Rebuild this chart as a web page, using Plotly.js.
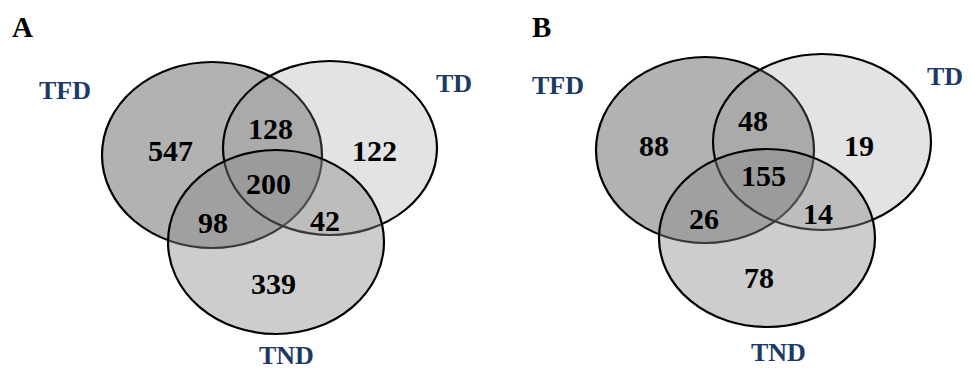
<!DOCTYPE html>
<html>
<head>
<meta charset="utf-8">
<script src="https://cdn.plot.ly/plotly-3.0.1.min.js"></script>
<style>html,body{margin:0;padding:0;background:#fff;}#chart{width:971px;height:371px;}</style>
</head>
<body>
<div id="chart"></div>
<script>
// ---- data ----
var panels = ["A", "B"];
var setNames = ["TFD", "TD", "TND"];
var regionNames = ["TFD only", "TFD∩TD", "TD only", "TFD∩TD∩TND", "TFD∩TND", "TD∩TND", "TND only"];
var countsA = [547, 128, 122, 200, 98, 42, 339];
var countsB = [88, 48, 19, 155, 26, 14, 78];

// ---- layout geometry (pixel space of the figure) ----
var geo = [
  {
    letter: [22, 27],
    ellipses: [ // TFD, TD, TND : cx, cy, rx, ry
      [212, 155, 110, 93],
      [330, 148, 107, 87],
      [276, 242, 108, 92]
    ],
    labels: [[65, 90], [454, 83], [286, 355]],
    regions: [[170, 150], [270, 128], [374, 150], [268, 183], [213, 222], [325, 220], [273, 283]]
  },
  {
    letter: [541, 27],
    ellipses: [
      [705, 150, 109, 93],
      [822, 142, 109, 88],
      [767, 238, 108, 89]
    ],
    labels: [[558, 85], [945, 76], [778, 352]],
    regions: [[654, 145], [753, 120], [859, 145], [763, 175], [704, 218], [818, 213], [759, 277]]
  }
];
var fills = ["rgba(178,178,178,1)", "rgba(146,146,146,0.26)", "rgba(135,135,135,0.42)"];
var counts = [countsA, countsB];

var shapes = [];
var annotations = [];
var serif = "Liberation Serif, Times New Roman, serif";

geo.forEach(function (g, p) {
  g.ellipses.forEach(function (e, i) {
    shapes.push({
      type: "circle", xref: "x", yref: "y",
      x0: e[0] - e[2], x1: e[0] + e[2], y0: e[1] - e[3], y1: e[1] + e[3],
      fillcolor: fills[i], line: {color: "#000", width: 2.2}, layer: "above"
    });
  });
  annotations.push({
    x: g.letter[0], y: g.letter[1], xref: "x", yref: "y", showarrow: false,
    text: "<b>" + panels[p] + "</b>", font: {family: serif, size: 29, color: "#000"}
  });
  setNames.forEach(function (n, i) {
    annotations.push({
      x: g.labels[i][0], y: g.labels[i][1], xref: "x", yref: "y", showarrow: false,
      text: "<b>" + n + "</b>", font: {family: serif, size: 26, color: "#1d3a66"}
    });
  });
  counts[p].forEach(function (v, i) {
    annotations.push({
      x: g.regions[i][0], y: g.regions[i][1], xref: "x", yref: "y", showarrow: false,
      text: "<b>" + v + "</b>", font: {family: serif, size: 30, color: "#000"},
      hovertext: regionNames[i]
    });
  });
});

var layout = {
  width: 971, height: 371,
  margin: {l: 0, r: 0, t: 0, b: 0},
  paper_bgcolor: "#fff", plot_bgcolor: "#fff",
  xaxis: {range: [0, 971], visible: false, fixedrange: true},
  yaxis: {range: [371, 0], visible: false, fixedrange: true},
  shapes: shapes,
  annotations: annotations,
  showlegend: false
};
Plotly.newPlot("chart", [{x: [], y: [], type: "scatter", mode: "markers"}], layout, {staticPlot: true});
</script>
</body>
</html>
